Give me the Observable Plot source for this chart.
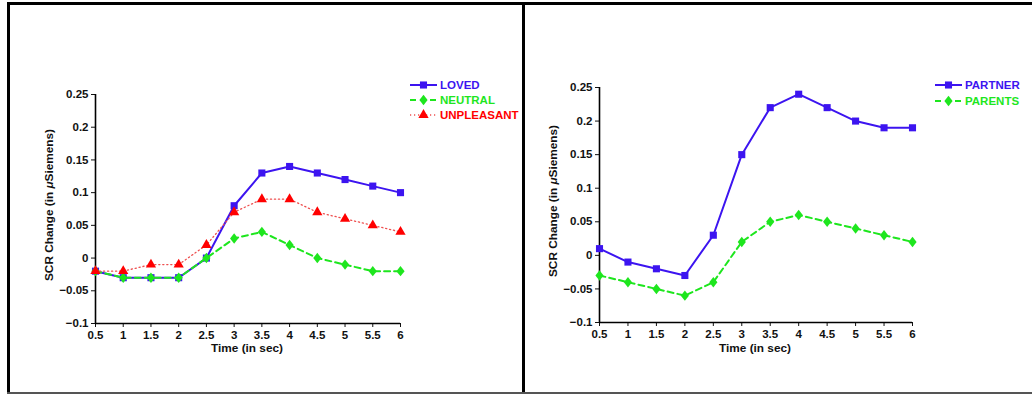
<!DOCTYPE html>
<html>
<head>
<meta charset="utf-8">
<script src="https://cdn.jsdelivr.net/npm/d3@7"></script>
<script src="https://cdn.jsdelivr.net/npm/@observablehq/plot@0.6"></script>
<style>
  html, body { margin: 0; padding: 0; background: #fff; }
  #root { position: relative; width: 1032px; height: 394px; background: #fff; overflow: hidden;
          font-family: "Liberation Sans", Arial, sans-serif; font-weight: bold; font-size: 11px; color: #111; }
  .bar { position: absolute; }
  .plot { position: absolute; top: 0; }
  .title { position: absolute; white-space: nowrap; font-size: 11.8px; font-weight: bold; color: #111; }
  .ytitle { transform: translate(-50%, -50%) rotate(-90deg); }
  .xtitle { transform: translate(-50%, -50%); }
  .legend { position: absolute; }
  .legrow { display: flex; align-items: center; height: 15px; white-space: nowrap; font-size: 11.5px; }
  .legrow svg { display: block; margin-right: 3px; }
  svg.plot text { font-size: 11.5px; }
</style>
</head>
<body>
<div id="root"></div>
<script>
// ---------- data ----------
const times = [0.5, 1, 1.5, 2, 2.5, 3, 3.5, 4, 4.5, 5, 5.5, 6];
const xTicks = [0.5, 1, 1.5, 2, 2.5, 3, 3.5, 4, 4.5, 5, 5.5, 6];
const yTicks = [-0.1, -0.05, 0, 0.05, 0.1, 0.15, 0.2, 0.25];

const leftNames = ["LOVED", "NEUTRAL", "UNPLEASANT"];
const loved      = [-0.02, -0.03, -0.03, -0.03, 0.00, 0.08, 0.13, 0.14, 0.13, 0.12, 0.11, 0.10];
const neutral    = [-0.02, -0.03, -0.03, -0.03, 0.00, 0.03, 0.04, 0.02, 0.00, -0.01, -0.02, -0.02];
const unpleasant = [-0.02, -0.02, -0.01, -0.01, 0.02, 0.07, 0.09, 0.09, 0.07, 0.06, 0.05, 0.04];

const rightNames = ["PARTNER", "PARENTS"];
const partner = [0.01, -0.01, -0.02, -0.03, 0.03, 0.15, 0.22, 0.24, 0.22, 0.20, 0.19, 0.19];
const parents = [-0.03, -0.04, -0.05, -0.06, -0.04, 0.02, 0.05, 0.06, 0.05, 0.04, 0.03, 0.02];

const xTitle = "Time (in sec)";
// ---------- styles ----------
const BLUE = "#3c14f0", GREEN = "#1ee61e", RED = "#ff0000", REDLINE = "#ee5050";

const tallDiamond = {
  draw(ctx, size) {
    const s = Math.sqrt(size), h = s * 0.7, w = s * 0.55;
    ctx.moveTo(0, -h); ctx.lineTo(w, 0); ctx.lineTo(0, h); ctx.lineTo(-w, 0); ctx.closePath();
  }
};
const styleOf = {
  blue:  {stroke: BLUE, fill: BLUE, lineColor: BLUE, strokeWidth: 2, dash: null, symbol: d3.symbolSquare, r: 4},
  green: {stroke: GREEN, fill: GREEN, lineColor: GREEN, strokeWidth: 2, dash: "6,4", symbol: tallDiamond, r: 4.2},
  red:   {stroke: RED, fill: RED, lineColor: REDLINE, strokeWidth: 1.3, dash: "1.2,2.8", symbol: d3.symbolTriangle, r: 3.8}
};

const leftSeries = [
  {name: leftNames[0], values: loved, st: styleOf.blue},
  {name: leftNames[1], values: neutral, st: styleOf.green},
  {name: leftNames[2], values: unpleasant, st: styleOf.red}
];
const rightSeries = [
  {name: rightNames[0], values: partner, st: styleOf.blue},
  {name: rightNames[1], values: parents, st: styleOf.green}
];

const yFmt = d => d === 0 ? "0" : (d < 0 ? "\u2212" : "") + String(Math.abs(d));

function makePlot(series, m) {
  const marks = [];
  marks.push(Plot.ruleX([xTicks[0]], {stroke: "#000", strokeWidth: 1.6}));
  marks.push(Plot.ruleY([yTicks[0]], {stroke: "#000", strokeWidth: 1.6}));
  for (const s of series) {
    const rows = times.map((t, i) => ({t, v: s.values[i], name: s.name}));
    marks.push(Plot.line(rows, {x: "t", y: "v", stroke: s.st.lineColor, strokeWidth: s.st.strokeWidth,
      strokeDasharray: s.st.dash || undefined}));
    marks.push(Plot.dot(rows, {x: "t", y: "v", symbol: () => s.st.symbol, fill: s.st.fill, stroke: "none", r: s.st.r}));
  }
  return Plot.plot({
    width: m.width, height: 394,
    marginLeft: m.left, marginRight: m.right, marginTop: m.top, marginBottom: m.bottom,
    style: {fontFamily: "Liberation Sans, Arial, sans-serif", fontSize: "11.5px", fontWeight: "bold",
            color: "#111", background: "transparent", overflow: "visible"},
    x: {domain: [xTicks[0], xTicks[xTicks.length - 1]], ticks: xTicks, tickSize: 4, tickPadding: 3,
        tickFormat: d => String(d), label: null},
    y: {domain: [yTicks[0], yTicks[yTicks.length - 1]], ticks: yTicks, tickSize: 4, tickPadding: 3,
        tickFormat: yFmt, label: null},
    symbol: {type: "identity"},
    marks
  });
}

const root = document.getElementById("root");
function el(tag, cls, css, html) {
  const e = document.createElement(tag);
  if (cls) e.className = cls;
  Object.assign(e.style, css || {});
  if (html != null) e.innerHTML = html;
  root.appendChild(e);
  return e;
}

// plots
const pL = makePlot(leftSeries, {width: 520, left: 95, right: 120, top: 94, bottom: 71});
pL.classList.add("plot"); pL.style.left = "0px"; pL.style.position = "absolute"; root.appendChild(pL);
const pR = makePlot(rightSeries, {width: 508, left: 75, right: 120, top: 87, bottom: 72});
pR.classList.add("plot"); pR.style.left = "524px"; pR.style.position = "absolute"; root.appendChild(pR);

// axis titles
const yTitleHtml = "SCR Change (in <i>\u03bc</i>Siemens)";
el("div", "title ytitle", {left: "49px", top: "205px"}, yTitleHtml);
el("div", "title ytitle", {left: "553px", top: "201px"}, yTitleHtml);
el("div", "title xtitle", {left: "247px", top: "348px"}, xTitle);
el("div", "title xtitle", {left: "755px", top: "348px"}, xTitle);

// legends
function legend(series, left, top, rowH) {
  const box = el("div", "legend", {left: left + "px", top: top + "px"});
  for (const s of series) {
    const row = document.createElement("div");
    row.className = "legrow";
    row.style.height = rowH + "px";
    row.style.color = s.st.fill;
    const sym = d3.symbol(s.st.symbol, Math.PI * s.st.r * s.st.r)();
    row.innerHTML =
      `<svg width="27" height="12" viewBox="0 0 27 12">
        <line x1="0" x2="27" y1="6" y2="6" stroke="${s.st.lineColor}" stroke-width="${s.st.strokeWidth}"
          ${s.st.dash ? `stroke-dasharray="${s.st.dash}"` : ""}/>
        <path d="${sym}" transform="translate(13.5,6)" fill="${s.st.fill}"/>
      </svg><span>${s.name}</span>`;
    box.appendChild(row);
  }
}
legend(leftSeries, 410, 77, 15);
legend(rightSeries, 935, 77, 16);

// frame lines
el("div", "bar", {left: "7px", top: "2px", width: "1025px", height: "3px", background: "#000"});
el("div", "bar", {left: "7px", top: "2px", width: "2.5px", height: "392px", background: "#000"});
el("div", "bar", {left: "522px", top: "2px", width: "2.5px", height: "392px", background: "#000"});
el("div", "bar", {left: "7px", top: "392px", width: "1025px", height: "2px", background: "#555"});
</script>
</body>
</html>
